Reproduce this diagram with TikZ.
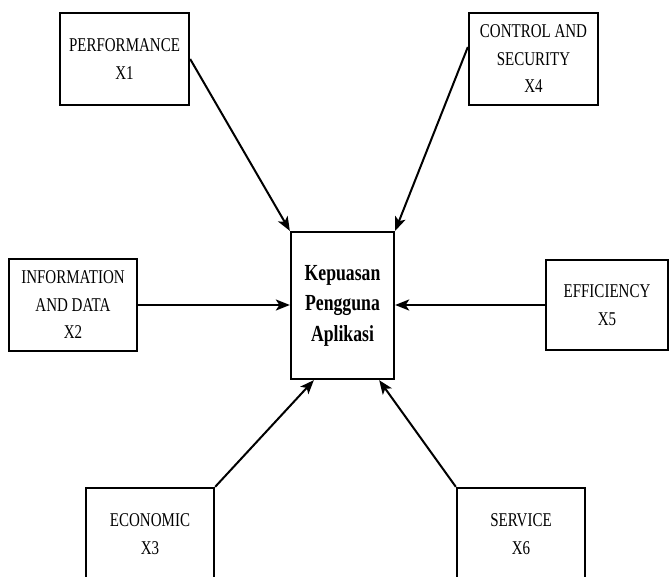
\documentclass[tikz,border=0pt]{standalone}
\usepackage{fontspec}
\setmainfont[FakeStretch=0.77]{Liberation Serif}
\usetikzlibrary{arrows.meta}
\begin{document}
\begin{tikzpicture}[x=1pt,y=-1pt,
 box/.style={draw, line width=2.3pt, minimum width=129pt, minimum height=92pt, inner sep=0pt, align=center, font=\fontsize{19.5}{27.5}\selectfont},
 mainbox/.style={draw, line width=2.3pt, minimum width=103pt, minimum height=147pt, inner sep=0pt, align=center, font=\fontsize{23}{30.5}\selectfont\bfseries},
 conn/.style={line width=2pt, -{Stealth[length=14pt,width=11pt,inset=3.5pt]}}]
\useasboundingbox (0,0) rectangle (669,577);
\clip (0,0) rectangle (669,577);
\node[mainbox] (k) at (342.5,305.5) {Kepuasan\\Pengguna\\Aplikasi};
\node[box] (p1) at (124.5,59) {PERFORMANCE\\X1};
\node[box] (p4) at (533.5,59) {CONTROL AND\\SECURITY\\X4};
\node[box, minimum width=128pt] (p2) at (73,305) {INFORMATION\\AND DATA\\X2};
\node[box, minimum width=122pt, minimum height=90pt] (p5) at (607,305) {EFFICIENCY\\X5};
\node[box, minimum width=128pt] (p3) at (150,534) {ECONOMIC\\X3};
\node[box, minimum width=128pt] (p6) at (521,534) {SERVICE\\X6};
\draw[conn] (p1.east) -- (k.north west);
\draw[conn] ([yshift=12pt]p4.west) -- (k.north east);
\draw[conn] (p2.east) -- (p2.east -| k.west);
\draw[conn] (p5.west) -- (p5.west -| k.east);
\draw[conn] (p3.north east) -- ([xshift=24pt]k.south west);
\draw[conn] (p6.north west) -- ([xshift=-16pt]k.south east);
\end{tikzpicture}
\end{document}
